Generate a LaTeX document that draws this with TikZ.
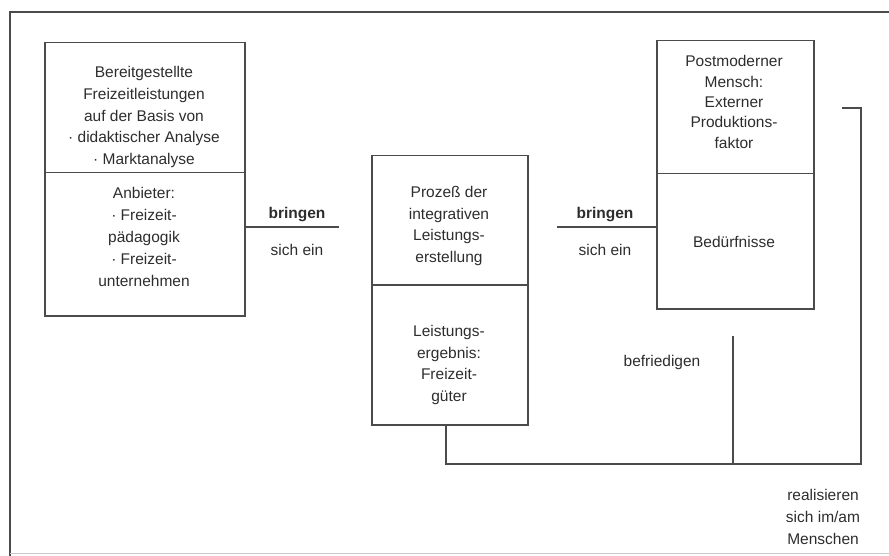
\documentclass[tikz,border=0pt]{standalone}
\usepackage{fontspec}
\setmainfont{Liberation Sans}
\definecolor{linec}{RGB}{75,75,75}
\definecolor{textc}{RGB}{45,45,45}
\begin{document}
\begin{tikzpicture}[x=1pt,y=-1pt,
  part/.style={draw=linec, line width=1.5pt, minimum width=#1, inner sep=0pt, anchor=north west},
  txt/.style={text=textc, align=center, font=\fontsize{15.5}{21.8}\selectfont, inner sep=0pt},
  conn/.style={draw=linec, line width=1.5pt}]
\useasboundingbox (0,0) rectangle (889,556);
\draw[linec, line width=1.5pt] (889,12) -- (10,12) -- (10,556);
\draw[linec!30, line width=1pt] (10,553) -- (889,553);
% left box
\node[part=200pt, minimum height=130pt] (lt) at (44,42) {};
\node[part=200pt, minimum height=143pt] (lb) at (44,172) {};
\node[txt] (ltt) at (144,117) {Bereitgestellte\\Freizeitleistungen\\auf der Basis von\\· didaktischer Analyse\\· Marktanalyse};
\node[txt] (lbt) at (144,237) {Anbieter:\\· Freizeit-\\pädagogik\\· Freizeit-\\unternehmen};
% middle box
\node[part=156pt, minimum height=129pt] (mt) at (371,155) {};
\node[part=156pt, minimum height=140pt] (mb) at (371,284) {};
\node[txt] (mtt) at (449,226) {Prozeß der\\integrativen\\Leistungs-\\erstellung};
\node[txt] (mbt) at (449,365) {Leistungs-\\ergebnis:\\Freizeit-\\güter};
% right box
\node[part=157pt, minimum height=133pt] (rt) at (656,40) {};
\node[part=157pt, minimum height=135pt] (rb) at (656,173) {};
\node[txt, font=\fontsize{15.5}{20.3}\selectfont] (rtt) at (734,102) {Postmoderner\\Mensch:\\Externer\\Produktions-\\faktor};
\node[txt] (rbt) at (734,242) {Bedürfnisse};
% connectors
\coordinate (c1) at (339,227);
\coordinate (c2) at (557,227);
\draw[conn] (lb.east |- c1) -- (c1);
\draw[conn] (c2) -- (rb.west |- c2);
\node[txt, font=\fontsize{15.5}{21.8}\selectfont\bfseries] (b1) at (297,215) {bringen};
\node[txt] (s1) at (297,250) {sich ein};
\node[txt, font=\fontsize{15.5}{21.8}\selectfont\bfseries] (b2) at (605,215) {bringen};
\node[txt] (s2) at (605,250) {sich ein};
\coordinate (stub) at (446,464);
\coordinate (corner) at (861,464);
\coordinate (rtop) at (861,108);
\coordinate (rtopl) at (842,108);
\coordinate (bfr) at (733,336);
\draw[conn] (mb.south -| stub) -- (stub) -- (corner) -- (rtop) -- (rtopl);
\draw[conn] (bfr) -- (bfr |- stub);
\node[txt] (bef) at (662,362) {befriedigen};
\node[txt] (real) at (823,517) {realisieren\\sich im/am\\Menschen};
\end{tikzpicture}
\end{document}
